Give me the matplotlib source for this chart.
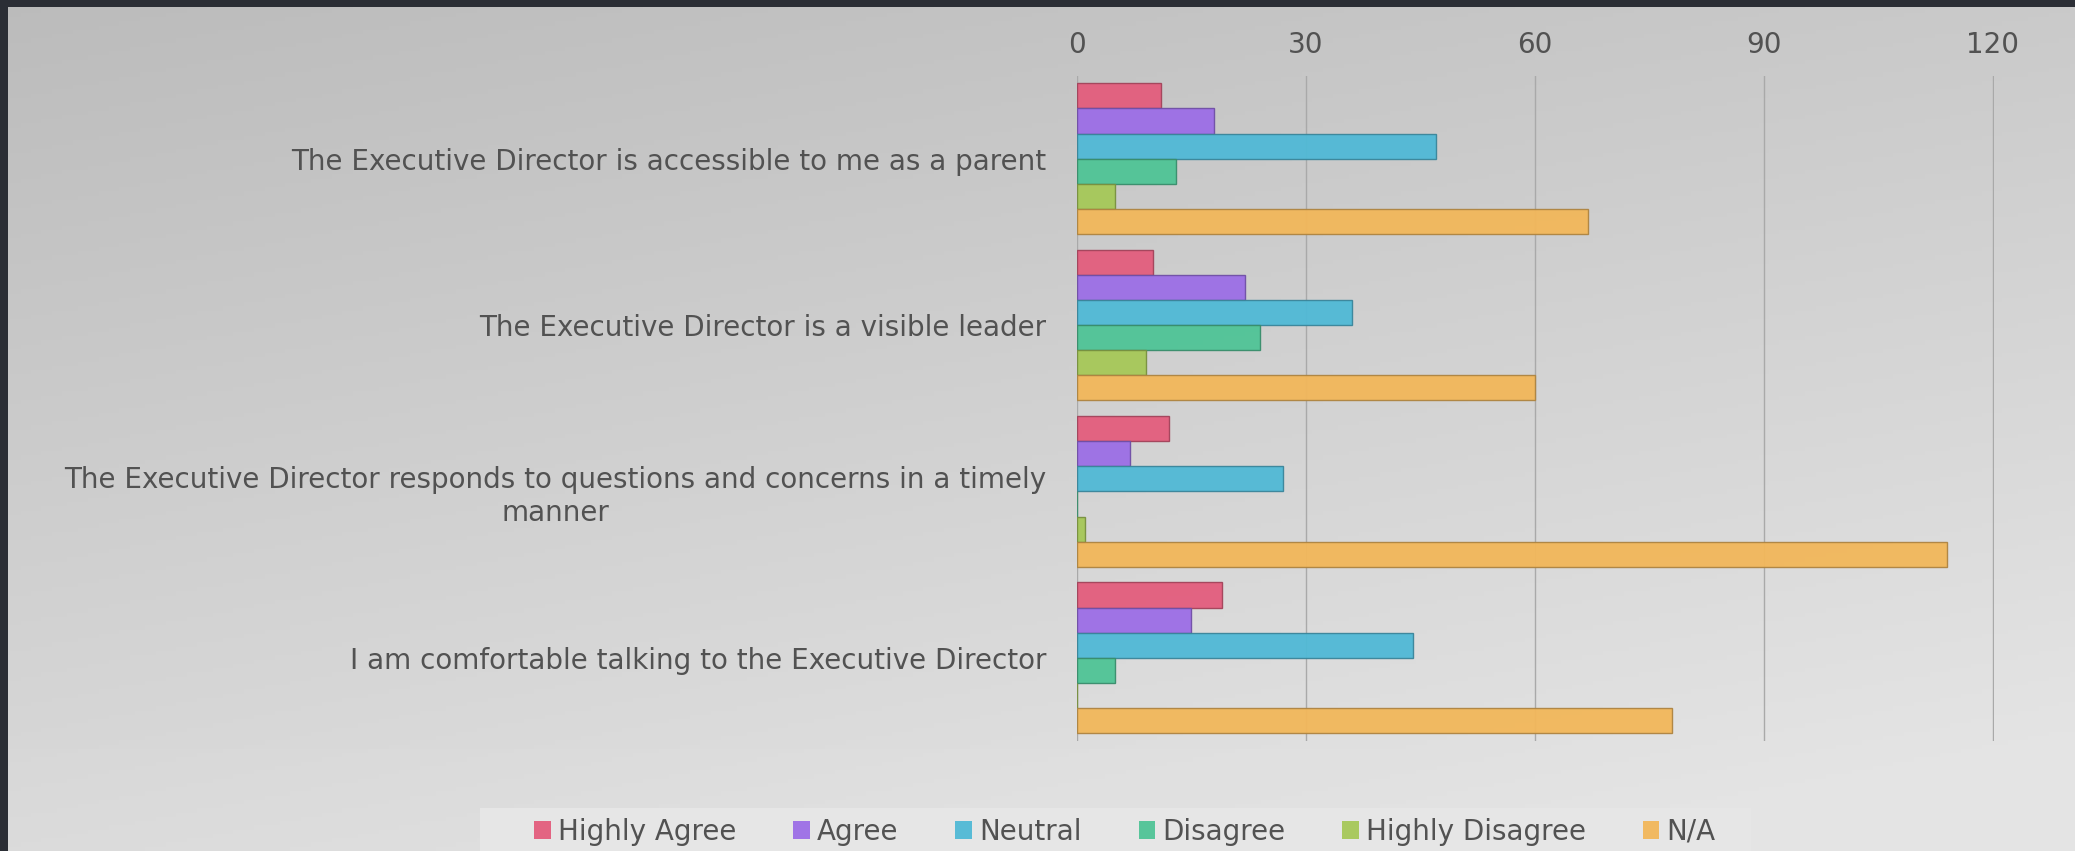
import numpy as np
import matplotlib
matplotlib.use("Agg")
import matplotlib.pyplot as plt
from matplotlib.patches import Rectangle
from matplotlib.colors import to_rgb

# ---- data ----
categories = [
    "The Executive Director is accessible to me as a parent",
    "The Executive Director is a visible leader",
    "The Executive Director responds to questions and concerns in a timely\nmanner",
    "I am comfortable talking to the Executive Director",
]
series_names = ["Highly Agree", "Agree", "Neutral", "Disagree", "Highly Disagree", "N/A"]
highly_agree = [11, 10, 12, 19]
agree = [18, 22, 7, 15]
neutral = [47, 36, 27, 44]
disagree = [13, 24, 0, 5]
highly_disagree = [5, 9, 1, 0]
not_applicable = [67, 60, 114, 78]
x_ticks = [0, 30, 60, 90, 120]

series_values = [highly_agree, agree, neutral, disagree, highly_disagree, not_applicable]
colors = ["#e35d7d", "#9c6ee6", "#50b9d6", "#4fc496", "#a6c858", "#f2b75a"]

plt.rcParams['font.family'] = ['DejaVu Sans']
text_color = "#525252"
fs = 20

W, H = 2075, 851
fig = plt.figure(figsize=(W / 100, H / 100), dpi=100)

# background gradient
bg = fig.add_axes([0, 0, 1, 1], zorder=-10)
yy, xx = np.mgrid[0:1:200j, 0:1:400j]
t = np.clip(0.75 * yy + 0.35 * xx, 0, 1)
c0 = np.array([0.735, 0.735, 0.735])
c1 = np.array([0.895, 0.895, 0.895])
img = c0[None, None, :] * (1 - t[..., None]) + c1[None, None, :] * t[..., None]
bg.imshow(img, extent=[0, 1, 0, 1], aspect='auto', origin='upper')
bg.add_patch(Rectangle((0, 0), 1, 1 - 749 / H, color='white', alpha=0.03, lw=0))
# legend panel
bg.add_patch(Rectangle((480 / W, 0), (1751 - 480) / W, 1 - 808 / H, color='#e6e6e6', lw=0))
bg.add_patch(Rectangle((0, 1 - 7 / H), 1, 7 / H, color='#2b2e35', lw=0))
bg.add_patch(Rectangle((0, 0), 8 / W, 1, color='#2b2e35', lw=0))
bg.set_xlim(0, 1)
bg.set_ylim(0, 1)
bg.axis('off')

# main axes
left, right = 1077 / W, 1994 / W
top, bottom = 1 - 75.5 / H, 1 - 741 / H
ax = fig.add_axes([left, bottom, right - left, top - bottom])
ax.set_facecolor('none')

n = len(series_names)
h = 0.151
y = np.arange(len(categories))
for j, (name, vals, col) in enumerate(zip(series_names, series_values, colors)):
    edge = tuple(np.array(to_rgb(col)) * 0.72)
    ax.barh(y + (j - (n - 1) / 2) * h, vals, height=h, color=col, alpha=0.95,
            edgecolor=edge, linewidth=1.0, label=name, zorder=3)

ax.set_xlim(0, 120.15)
ax.set_ylim(3.5, -0.5)
ax.set_xticks(x_ticks)
ax.xaxis.tick_top()
ax.tick_params(axis='x', length=0, pad=12, labelsize=fs, labelcolor=text_color)
ax.tick_params(axis='y', length=0, pad=22, labelsize=fs, labelcolor=text_color)
ax.set_yticks(y)
ax.set_yticklabels(categories)
for lab in ax.get_yticklabels():
    lab.set_multialignment('center')
ax.grid(axis='x', color='#a9a9a9', linewidth=1.0, zorder=1)
ax.set_axisbelow(True)
for s in ax.spines.values():
    s.set_visible(False)

# legend
handles, labels = ax.get_legend_handles_labels()
leg = fig.legend(handles, labels, loc='center', ncol=6,
                 bbox_to_anchor=(1125 / W, 1 - 832 / H),
                 frameon=False, fontsize=fs,
                 handlelength=0.6, handleheight=0.6, handletextpad=0.25,
                 columnspacing=2.05, borderpad=0.0, borderaxespad=0)
for txt in leg.get_texts():
    txt.set_color(text_color)
for p in leg.get_patches():
    p.set_edgecolor('none')

fig.savefig("out.png", dpi=100)
